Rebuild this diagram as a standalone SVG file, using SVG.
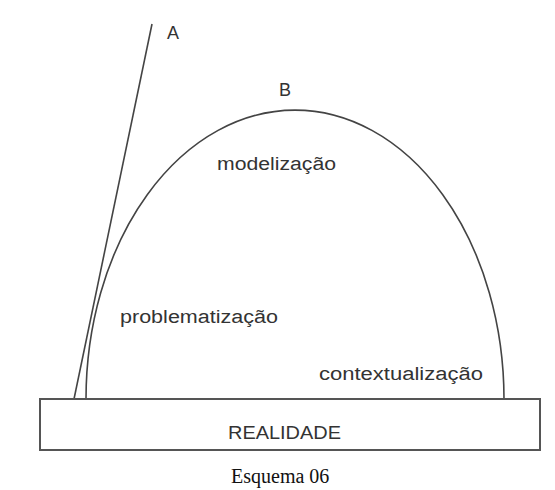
<svg xmlns="http://www.w3.org/2000/svg" width="555" height="490" viewBox="0 0 555 490">
<style>
.ln{fill:none;stroke:#444;stroke-width:1.6}
.lbl{font-family:"Liberation Sans",Arial,sans-serif;font-size:18px;fill:#333}
.cap{font-family:"Liberation Serif","Times New Roman",serif;font-size:20px;fill:#111}
</style>
<rect width="555" height="490" fill="#fff"/>
<g id="connectors">
<path id="lineA" class="ln" d="M152,24 L74,399"/>
<path id="arcB" class="ln" d="M86,399 A209,289 0 0 1 504,399"/>
</g>
<g id="realidade">
<rect x="40" y="399" width="500" height="51" fill="#fff" stroke="#555" stroke-width="2"/>
<text class="lbl" x="228" y="439" textLength="113" lengthAdjust="spacingAndGlyphs">REALIDADE</text>
</g>
<g id="labelA"><text class="lbl" x="167" y="39">A</text></g>
<g id="labelB"><text class="lbl" x="279" y="96">B</text></g>
<g id="modelizacao"><text class="lbl" x="217" y="170" textLength="119" lengthAdjust="spacingAndGlyphs">modelização</text></g>
<g id="problematizacao"><text class="lbl" x="120" y="323" textLength="158" lengthAdjust="spacingAndGlyphs">problematização</text></g>
<g id="contextualizacao"><text class="lbl" x="319" y="380" textLength="164" lengthAdjust="spacingAndGlyphs">contextualização</text></g>
<g id="caption"><text class="cap" x="231" y="483">Esquema 06</text></g>
</svg>
